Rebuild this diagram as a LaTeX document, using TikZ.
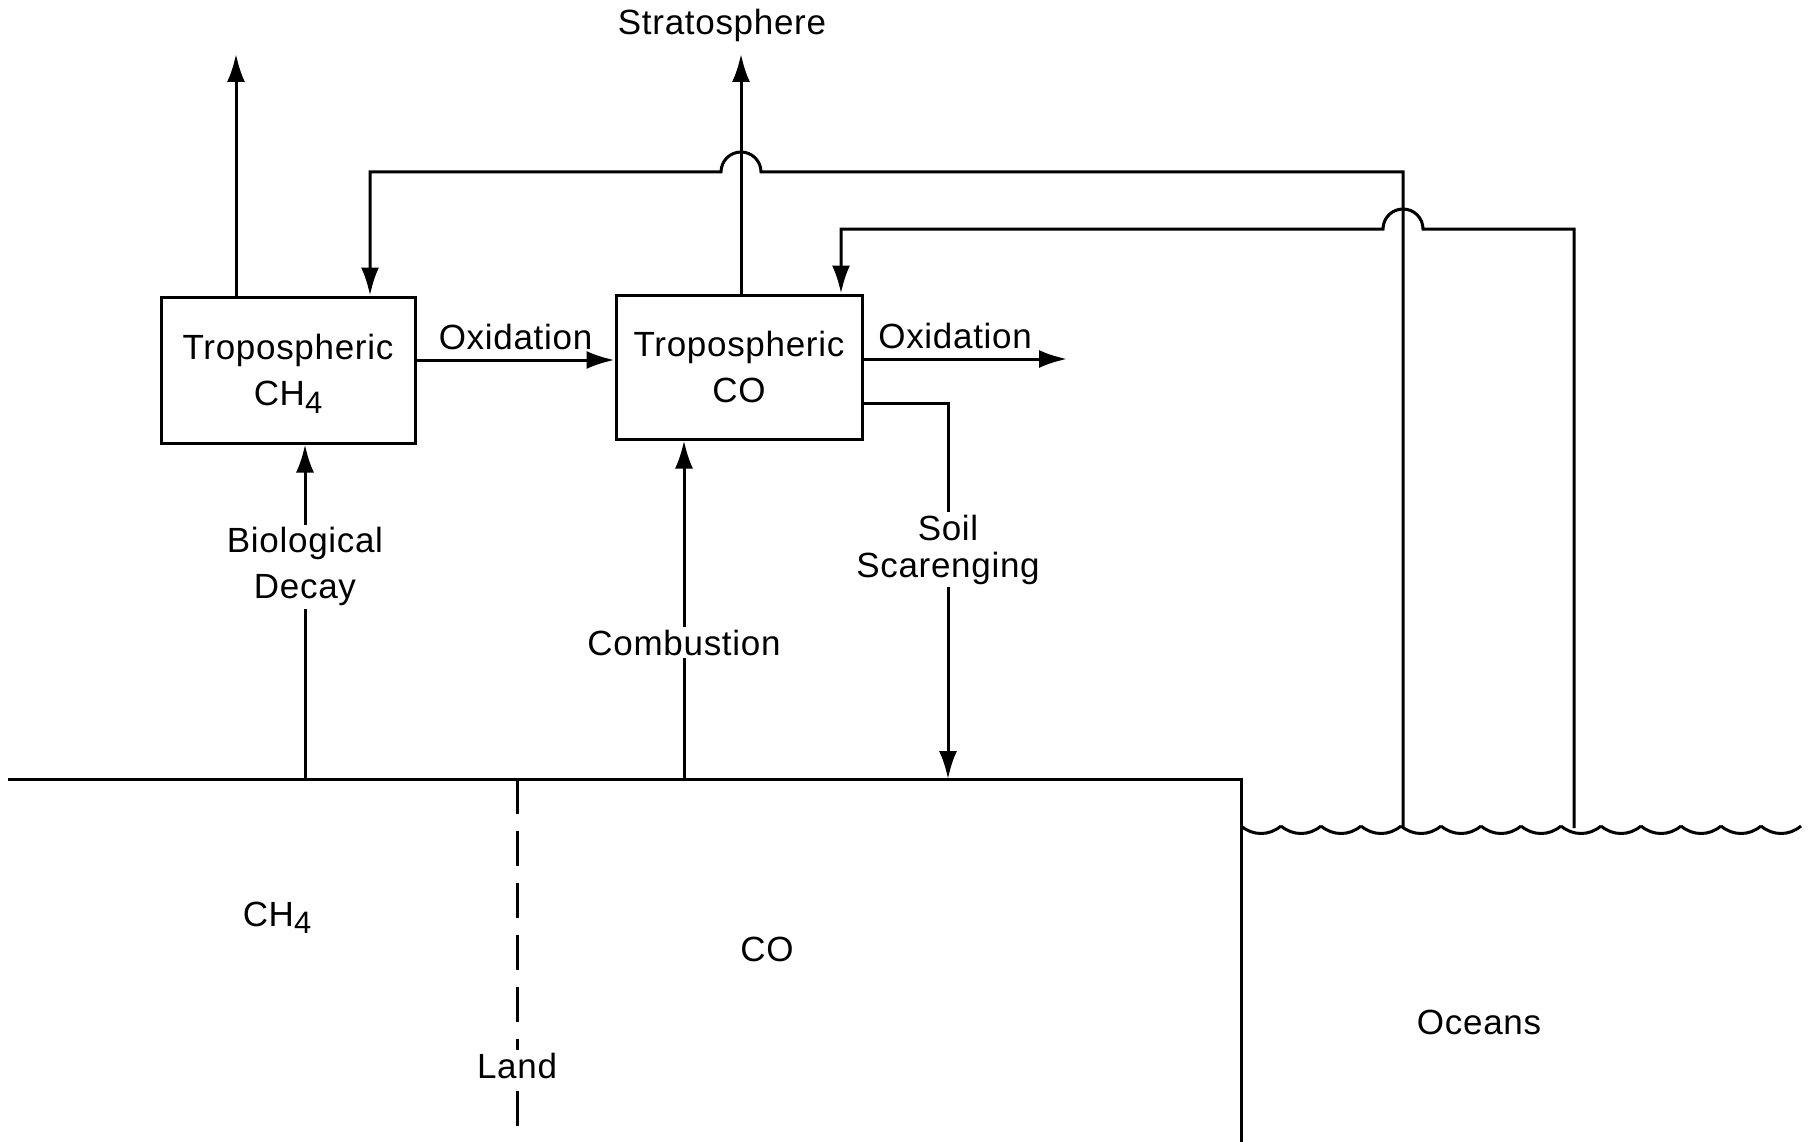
\documentclass[tikz,border=0pt]{standalone}
\usepackage{fontspec}
\setmainfont[LetterSpace=2]{Liberation Sans}
\usetikzlibrary{arrows.meta}
\newcommand{\lowfour}{\raisebox{-0.4ex}{\fontsize{31}{31}\selectfont 4}}

\begin{document}
\begin{tikzpicture}[x=1pt,y=-1pt,line width=3pt,
    every node/.style={font=\fontsize{35}{46}\selectfont},
    box/.style={draw,align=center,inner sep=0pt},
    flow/.style={-{Latex[length=28pt,width=18pt]}},
    tag/.style={fill=white,align=center,inner sep=3pt}]
        \useasboundingbox (0,0) rectangle (1811,1142);

        \node[box,minimum width=254pt,minimum height=146pt,text depth=-4pt] (ch4) at (288,370) {Tropospheric\\CH\lowfour};
        \node[box,minimum width=246pt,minimum height=144pt,text depth=-4pt] (co) at (739,367) {Tropospheric\\CO};
        \node (strat) at (722,25) {Stratosphere};
        \node (landch4) at (277,918) {CH\lowfour};
        \node (landco) at (767,949) {CO};
        \node (oceans) at (1479,1022) {Oceans};

        \coordinate (up1) at (236,54);
        \coordinate (up2) at (741,54);
        \coordinate (bio) at (305,779);
        \coordinate (comb) at (684,779);
        \coordinate (soil) at (948,779);
        \coordinate (soilc) at (948,403);
        \coordinate (oxend) at (1067,359);
        \coordinate (gl) at (8,779);
        \coordinate (shore) at (1241,779);
        \coordinate (shorebot) at (1241,1142);
        \coordinate (landtop) at (517,779);
        \coordinate (landbot) at (517,1142);
        \coordinate (oc1) at (1403,828);
        \coordinate (oc2) at (1574,828);
        \coordinate (ret1) at (370,172);
        \coordinate (ret2) at (841,229);

        \draw[flow] (ch4.north -| up1) -- (up1);
        \draw[flow] (co.north -| up2) -- (up2);
        \draw[flow] ([yshift=10pt]ch4.east) -- node[above,inner sep=9pt] {Oxidation} ([yshift=10pt]ch4.east -| co.west);
        \draw[flow] ([yshift=8pt]co.east) -- node[above,pos=0.45,inner sep=9pt] {Oxidation} (oxend);
        \draw[flow] (co.east |- soilc) -- (soilc) -- node[tag,pos=0.39,font=\fontsize{35}{37}\selectfont] {Soil\\Scarenging} (soil);
        \draw[flow] (bio) -- node[tag,pos=0.634] {Biological\\Decay} (ch4.south -| bio);
        \draw[flow] (comb) -- node[tag,pos=0.403] {Combustion} (co.south -| comb);

        \draw (gl) -- (shore) -- (shorebot);
        \draw[dash pattern=on 35pt off 17pt] (landtop) -- node[tag,pos=0.79] {Land} (landbot);

        \draw[flow] (oc1) -- (oc1 |- ret1) -- (761,172) arc[start angle=0,end angle=-180,radius=20] -- (ret1) -- (ch4.north -| ret1);
        \draw[flow] (oc2) -- (oc2 |- ret2) -- (1423,229) arc[start angle=0,end angle=-180,radius=20] -- (ret2) -- (co.north -| ret2);

        \foreach \i in {0,...,13}{
            \pgfmathsetmacro{\wx}{1241+40*\i}
            \draw (\wx,826) .. controls (\wx+12,836) and (\wx+28,836) .. (\wx+40,826);
        }
    \end{tikzpicture}
\end{document}
